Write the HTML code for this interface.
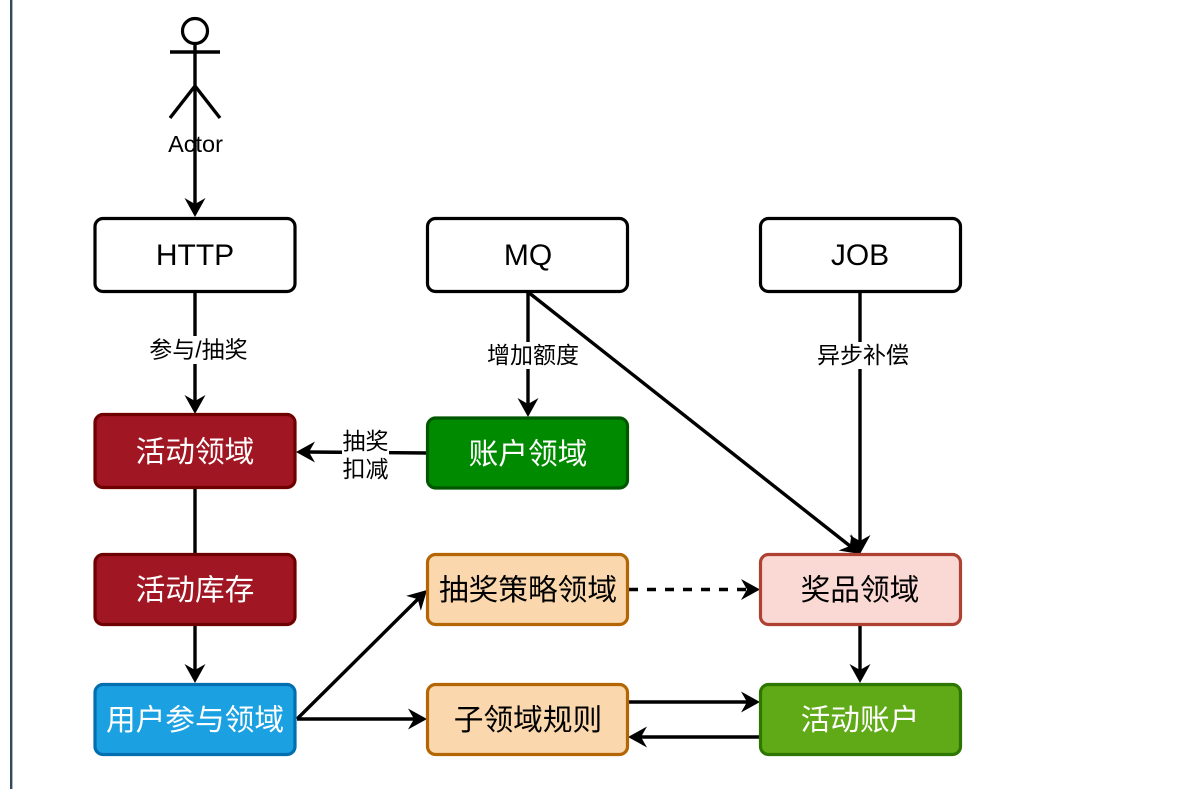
<!DOCTYPE html>
<html>
<head>
<meta charset="utf-8">
<style>
html,body{margin:0;padding:0;background:#fff;width:1204px;height:803px;overflow:hidden}
svg{display:block;filter:blur(0.35px)}
text{font-family:"Liberation Sans","Noto Sans CJK SC",sans-serif;text-anchor:middle}
.b{font-size:29.700px;fill:#000}
.w{font-size:29.700px;fill:#fff}
.h{font-size:30px;fill:#000}
.l{font-size:23px;fill:#000}
.e{stroke:#000;stroke-width:3.400;fill:none}
.a{fill:#000;stroke:none}
</style>
</head>
<body>
<svg width="1204" height="803" viewBox="0 0 1204 803" xmlns="http://www.w3.org/2000/svg">
<defs>
<path id="ah" d="M0 0 L-19 -10.500 L-13 0 L-19 10.500 Z"/>
</defs>
<rect x="10" y="0" width="2.400" height="789" fill="#34495e"/>

<!-- actor -->
<circle cx="195" cy="31" r="12.500" fill="#fff" stroke="#000" stroke-width="3.200"/>
<path class="e" d="M195 44V86M170 52H220M170 118L195 86L220 118"/>
<text x="195.500" y="152" style="font-size:23.500px">Actor</text>

<!-- connectors -->
<path class="e" d="M195 86V204"/>
<use href="#ah" class="a" transform="translate(195,217) rotate(90)"/>
<path class="e" d="M195 292V401"/>
<use href="#ah" class="a" transform="translate(195,414) rotate(90)"/>
<path class="e" d="M195 488V554"/>
<path class="e" d="M195 625V671"/>
<use href="#ah" class="a" transform="translate(195,683) rotate(90)"/>
<path class="e" d="M528 292V405"/>
<use href="#ah" class="a" transform="translate(528,417) rotate(90)"/>
<path class="e" d="M860 292V541"/>
<use href="#ah" class="a" transform="translate(860,554) rotate(90)"/>
<path class="e" d="M528 292L850 546"/>
<use href="#ah" class="a" transform="translate(860,554) rotate(38.200)"/>
<path class="e" d="M427 453L308 452"/>
<use href="#ah" class="a" transform="translate(296,452) rotate(180)"/>
<path class="e" d="M297 719L418 599"/>
<use href="#ah" class="a" transform="translate(427,590) rotate(-44.500)"/>
<path class="e" d="M297 719H415"/>
<use href="#ah" class="a" transform="translate(427,719)"/>
<path class="e" d="M629 589.500H748" stroke-dasharray="9 9"/>
<use href="#ah" class="a" transform="translate(760,589.500)"/>
<path class="e" d="M860 625V671"/>
<use href="#ah" class="a" transform="translate(860,683) rotate(90)"/>
<path class="e" d="M628 702H748"/>
<use href="#ah" class="a" transform="translate(760,702)"/>
<path class="e" d="M760 737H640"/>
<use href="#ah" class="a" transform="translate(628,737) rotate(180)"/>

<!-- boxes -->
<g stroke-width="3.200">
<rect x="95" y="218.500" width="200" height="73" rx="8" fill="#fff" stroke="#000"/>
<rect x="427.500" y="218.500" width="200" height="73" rx="8" fill="#fff" stroke="#000"/>
<rect x="760.500" y="218.500" width="200" height="73" rx="8" fill="#fff" stroke="#000"/>
<rect x="95" y="414.500" width="200" height="73" rx="8" fill="#a11623" stroke="#6f0000"/>
<rect x="427.500" y="418" width="200" height="70" rx="8" fill="#008a00" stroke="#005700"/>
<rect x="95" y="554.500" width="200" height="70" rx="8" fill="#a11623" stroke="#6f0000"/>
<rect x="95" y="684.500" width="200" height="70" rx="8" fill="#1ba1e2" stroke="#006eaf"/>
<rect x="427.500" y="554.500" width="200" height="70" rx="8" fill="#fad7ac" stroke="#b46504"/>
<rect x="427.500" y="684.500" width="200" height="70" rx="8" fill="#fad7ac" stroke="#b46504"/>
<rect x="760.500" y="554.500" width="200" height="70" rx="8" fill="#fad9d5" stroke="#ae4132"/>
<rect x="760.500" y="684.500" width="200" height="70" rx="8" fill="#60a917" stroke="#2d7600"/>
</g>

<!-- box text -->
<text class="h" x="195" y="265">HTTP</text>
<text class="h" x="528" y="265">MQ</text>
<text class="h" x="860" y="265">JOB</text>
<text class="w" x="195" y="462">活动领域</text>
<text class="w" x="528" y="464">账户领域</text>
<text class="w" x="195" y="600">活动库存</text>
<text class="w" x="195" y="730">用户参与领域</text>
<text class="b" x="528" y="600">抽奖策略领域</text>
<text class="b" x="528" y="730">子领域规则</text>
<text class="b" x="860" y="600">奖品领域</text>
<text class="w" x="860" y="730">活动账户</text>

<!-- edge labels -->
<rect x="147" y="336" width="102" height="28" fill="#fff"/>
<text class="l" x="198.500" y="357.500">参与/抽奖</text>
<rect x="486" y="342" width="95" height="27" fill="#fff"/>
<text class="l" x="533" y="363">增加额度</text>
<rect x="816" y="342" width="94" height="27" fill="#fff"/>
<text class="l" x="863" y="363">异步补偿</text>
<rect x="342" y="428" width="47" height="54" fill="#fff"/>
<text class="l" x="365.500" y="449">抽奖</text>
<text class="l" x="365.500" y="477">扣减</text>
</svg>
</body>
</html>
